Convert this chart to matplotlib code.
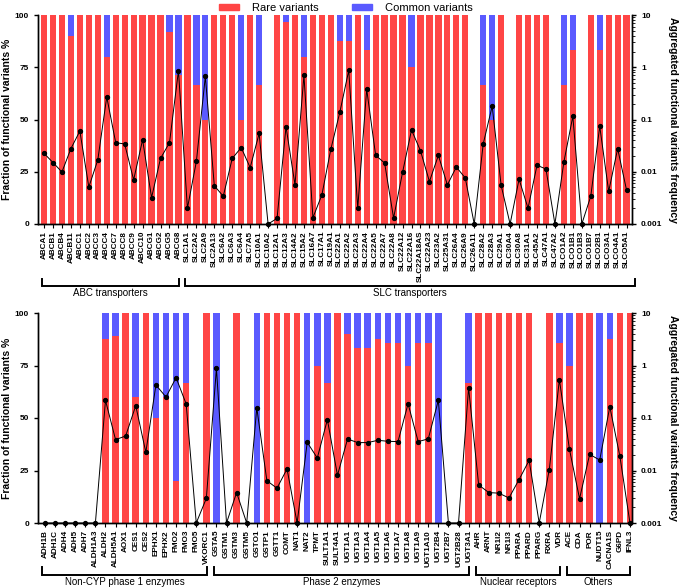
import matplotlib
matplotlib.use('Agg')
import matplotlib.pyplot as plt
from matplotlib.patches import Patch
import matplotlib.ticker as ticker
import numpy as np

plt.rcParams.update({
  'font.family'      : ['Liberation Sans', 'DejaVu Sans'],
  'font.size'        : 6,
  'font.weight'      : 'bold',
  'axes.labelweight' : 'bold',
  'axes.linewidth'   : 1,
  'xtick.major.size' : 3,
  'xtick.major.width': 0.8,
  'ytick.major.size' : 3,
  'ytick.major.width': 1,
  'ytick.minor.size' : 2,
  'ytick.minor.width': 0.6,
})

RED = '#ff4545'
BLUE = '#5a5aff'

# ---------------- top panel: transporters ----------------
genes_top = ['ABCA1', 'ABCB1', 'ABCB4', 'ABCB11', 'ABCC1', 'ABCC2', 'ABCC3', 'ABCC4', 'ABCC7', 'ABCC8',
             'ABCC9', 'ABCC10', 'ABCG1', 'ABCG2', 'ABCG5', 'ABCG8',
             'SLC1A1', 'SLC2A2', 'SLC2A9', 'SLC2A13', 'SLC6A2', 'SLC6A3', 'SLC6A4', 'SLC7A5', 'SLC10A1', 'SLC10A2',
             'SLC12A1', 'SLC12A3', 'SLC14A2', 'SLC15A2', 'SLC16A7', 'SLC17A1', 'SLC19A1', 'SLC22A1', 'SLC22A2', 'SLC22A3',
             'SLC22A4', 'SLC22A5', 'SLC22A7', 'SLC22A8', 'SLC22A12', 'SLC22A16', 'SLC22A18AS', 'SLC22A23', 'SLC23A2', 'SLC25A31',
             'SLC26A4', 'SLC26A9', 'SLC26A11', 'SLC28A2', 'SLC28A3', 'SLC29A1', 'SLC30A4', 'SLC30A8', 'SLC31A1', 'SLC45A2',
             'SLC47A1', 'SLC47A2', 'SLCO1A2', 'SLCO1B1', 'SLCO1B3', 'SLCO1B7', 'SLCO2B1', 'SLCO3A1', 'SLCO4A1', 'SLCO5A1']

rare_top = [100, 100, 100, 90, 100, 100, 100, 80, 100, 100,
            100, 100, 100, 100, 91.7, 71.4,
            100, 66.7, 50, 100, 100, 100, 50, 100, 66.7, 0,
            100, 96.5, 100, 80, 100, 100, 100, 87.5, 87.5, 100,
            83.3, 100, 100, 100, 100, 75, 100, 100, 100, 100,
            100, 100, 0, 66.7, 50, 100, 0, 100, 100, 100,
            100, 0, 66.7, 83.3, 0, 100, 83.3, 100, 100, 100]

common_top = [0, 0, 0, 10, 0, 0, 0, 20, 0, 0,
              0, 0, 0, 0, 8.3, 28.6,
              0, 33.3, 50, 0, 0, 0, 50, 0, 33.3, 0,
              0, 3.5, 0, 20, 0, 0, 0, 12.5, 12.5, 0,
              16.7, 0, 0, 0, 0, 25, 0, 0, 0, 0,
              0, 0, 0, 33.3, 50, 0, 0, 0, 0, 0,
              0, 0, 33.3, 16.7, 0, 0, 16.7, 0, 0, 0]

freq_top = [0.0225, 0.015, 0.0099, 0.0277, 0.060, 0.0051, 0.0168, 0.27, 0.036, 0.034,
            0.0070, 0.041, 0.0032, 0.018, 0.036, 0.86,
            0.002, 0.0158, 0.67, 0.0054, 0.0034, 0.018, 0.029, 0.012, 0.054, 0,
            0.00128, 0.073, 0.0056, 0.70, 0.00132, 0.0036, 0.027, 0.137, 0.87, 0.002,
            0.38, 0.0206, 0.0147, 0.0013, 0.0097, 0.063, 0.0253, 0.0065, 0.0206, 0.0056,
            0.0123, 0.0076, 0, 0.034, 0.18, 0.0055, 0, 0.0072, 0.002, 0.0133,
            0.0113, 0, 0.0154, 0.115, 0, 0.0034, 0.074, 0.0042, 0.0277, 0.0044]

groups_top = [('ABC transporters', 'ABCA1', 'ABCG8'),
              ('SLC transporters', 'SLC1A1', 'SLCO5A1')]

# ---------------- bottom panel: enzymes and others ----------------
genes_bot = ['ADH1B', 'ADH1C', 'ADH4', 'ADH5', 'ADH7', 'ALDH1A3', 'ALDH2', 'ALDH5A1', 'AOX1', 'CES1',
             'CES2', 'EPHX1', 'EPHX2', 'FMO2', 'FMO3', 'FMO5', 'VKORC1',
             'GSTA5', 'GSTM1', 'GSTM3', 'GSTM5', 'GSTO1', 'GSTP1', 'GSTT1', 'COMT', 'NAT1', 'NAT2',
             'TPMT', 'SULT1A1', 'SULT4A1', 'UGT1A1', 'UGT1A3', 'UGT1A4', 'UGT1A5', 'UGT1A6', 'UGT1A7', 'UGT1A8',
             'UGT1A9', 'UGT1A10', 'UGT2B4', 'UGT2B7', 'UGT2B28', 'UGT3A1',
             'AHR', 'ARNT', 'NR1I2', 'NR1I3', 'PPARA', 'PPARD', 'PPARG', 'RXRA', 'VDR',
             'ACE', 'CDA', 'POR', 'NUDT15', 'CACNA1S', 'G6PD', 'IFNL3']

rare_bot = [0, 0, 0, 0, 0, 0, 87.5, 88.9, 100, 60,
            100, 50, 60, 20, 66.7, 0, 100,
            0, 0, 100, 0, 0, 100, 100, 100, 100, 0,
            75, 66.7, 100, 90, 83.3, 83.3, 87.5, 85.7, 85.7, 75,
            85.7, 85.7, 0, 0, 0, 66.7,
            100, 100, 100, 100, 100, 100, 0, 100, 85.7,
            75, 100, 100, 0, 87.5, 100, 100]

common_bot = [0, 0, 0, 0, 0, 0, 12.5, 11.1, 0, 40,
              0, 50, 40, 80, 33.3, 0, 0,
              100, 0, 0, 0, 100, 0, 0, 0, 0, 100,
              25, 33.3, 0, 10, 16.7, 16.7, 12.5, 14.3, 14.3, 25,
              14.3, 14.3, 100, 0, 0, 33.3,
              0, 0, 0, 0, 0, 0, 0, 0, 14.3,
              25, 0, 0, 100, 12.5, 0, 0]

freq_bot = [0, 0, 0, 0, 0, 0, 0.217, 0.0387, 0.0454, 0.172,
            0.0222, 0.426, 0.251, 0.586, 0.185, 0, 0.00295,
            0.88, 0, 0.0038, 0, 0.157, 0.0064, 0.0046, 0.0107, 0, 0.0344,
            0.0173, 0.093, 0.0081, 0.0398, 0.034, 0.034, 0.0376, 0.036, 0.0355, 0.187,
            0.0355, 0.040, 0.217, 0, 0, 0.378,
            0.0053, 0.0038, 0.0037, 0.003, 0.0067, 0.0156, 0, 0.0104, 0.537,
            0.0253, 0.0029, 0.0203, 0.0158, 0.164, 0.0186, 0]

groups_bot = [('Non-CYP phase 1 enzymes', 'ADH1B', 'VKORC1'),
              ('Phase 2 enzymes', 'GSTA5', 'UGT3A1'),
              ('Nuclear receptors', 'AHR', 'VDR'),
              ('Others', 'ACE', 'IFNL3')]


def draw_panel(ax, genes, rare, common, freq, groups, width, xlim, brk_y, brk_h, lab_y, end_pad):
    x = np.arange(len(genes))
    ax.bar(x, rare, width=width, color=RED, zorder=2)
    ax.bar(x, common, width=width, bottom=rare, color=BLUE, zorder=2)
    ax.set_xlim(xlim)
    ax.set_ylim(0, 100)
    ax.set_yticks([0, 25, 50, 75, 100])
    ax.set_xticks(x)
    ax.set_xticklabels(genes, rotation=90, fontsize=5.9)
    ax.tick_params(axis='x', pad=2)
    ax.tick_params(axis='y', labelsize=6)
    ax.spines['top'].set_visible(False)
    ax.set_ylabel('Fraction of functional variants %', fontsize=7.5, labelpad=2)

    ax2 = ax.twinx()
    ax2.set_yscale('log')
    ax2.set_ylim(0.001, 10)
    ax2.set_yticks([0.001, 0.01, 0.1, 1, 10])
    ax2.yaxis.set_major_formatter(ticker.FixedFormatter(['0.001', '0.01', '0.1', '1', '10']))
    ax2.yaxis.set_minor_locator(ticker.LogLocator(base=10, subs=np.arange(2, 10), numticks=20))
    ax2.yaxis.set_minor_formatter(ticker.NullFormatter())
    ax2.tick_params(axis='y', labelsize=6)
    ax2.spines['top'].set_visible(False)
    ax2.set_ylabel('Aggregated functional variants frequency', fontsize=7.5, rotation=270, labelpad=11)
    line, = ax2.plot(x, np.maximum(freq, 0.001), color='black', lw=0.7, marker='o', markersize=2.8, zorder=3)
    line.set_clip_on(False)

    # group brackets under the tick labels
    trans = ax.get_xaxis_transform()
    for name, g0, g1 in groups:
        i0 = genes.index(g0) - 0.25
        i1 = genes.index(g1) + (end_pad if g1 == genes[-1] else 0.05)
        ax.plot([i0, i0, i1, i1], [brk_y + brk_h, brk_y, brk_y, brk_y + brk_h], transform=trans,
                color='black', lw=1.4, clip_on=False, solid_joinstyle='miter')
        ax.text((i0 + i1) / 2, lab_y, name, transform=trans, ha='center', va='top',
                fontsize=7, fontweight='normal')
    return ax2


fig = plt.figure(figsize=(6.85, 5.88), dpi=100)
ax_top = fig.add_axes([38 / 685, 1 - 224 / 588, 594 / 685, 209 / 588])
ax_bot = fig.add_axes([38 / 685, 1 - 523 / 588, 594 / 685, 210 / 588])

draw_panel(ax_top, genes_top, rare_top, common_top, freq_top, groups_top,
           width=0.7, xlim=(-0.67, 65.6), brk_y=-0.295, brk_h=0.034, lab_y=-0.308, end_pad=0.9)
draw_panel(ax_bot, genes_bot, rare_bot, common_bot, freq_bot, groups_bot,
           width=0.65, xlim=(-0.69, 58.2), brk_y=-0.248, brk_h=0.038, lab_y=-0.258, end_pad=0.0)

handles = [Patch(color=RED, label='Rare variants'), Patch(color=BLUE, label='Common variants')]
fig.legend(handles=handles, loc='upper center', bbox_to_anchor=(0.505, 1.012), ncol=2, frameon=False,
           prop={'size': 8, 'weight': 'normal'}, handlelength=1.8, handleheight=0.5, columnspacing=3.0,
           handletextpad=1.2)

fig.savefig('out.png', dpi=100)
